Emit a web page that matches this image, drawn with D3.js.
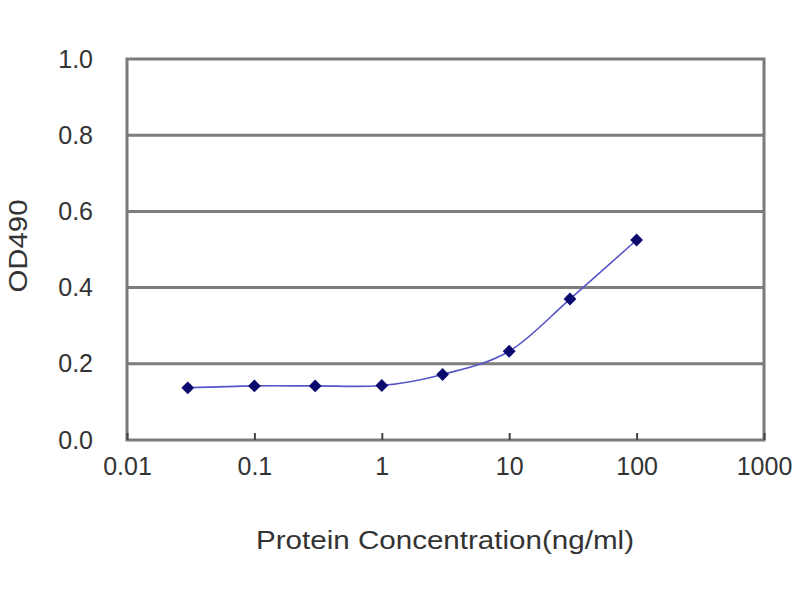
<!DOCTYPE html>
<html>
<head>
<meta charset="utf-8">
<script src="https://cdn.jsdelivr.net/npm/d3@7"></script>
<style>
  html, body { margin: 0; padding: 0; background: #fff; }
  svg { display: block; }
  text { font-family: "Liberation Sans", Arial, sans-serif; fill: #333; }
</style>
</head>
<body>
<script>
// Data
const concentrations = [0.03, 0.1, 0.3, 1, 3, 10, 30, 100];
const od490 = [0.137, 0.142, 0.142, 0.143, 0.172, 0.233, 0.370, 0.525];
const xTickValues = [0.01, 0.1, 1, 10, 100, 1000];
const xTickLabels = ["0.01", "0.1", "1", "10", "100", "1000"];
const yTickValues = [0.0, 0.2, 0.4, 0.6, 0.8, 1.0];
const yTickLabels = ["0.0", "0.2", "0.4", "0.6", "0.8", "1.0"];
const xTitle = "Protein Concentration(ng/ml)";
const yTitle = "OD490";

const W = 800, H = 600;
const plot = { left: 127, right: 764, top: 59, bottom: 440 };

const svg = d3.select("body").append("svg").attr("width", W).attr("height", H);

const x = d3.scaleLog().domain([0.01, 1000]).range([plot.left, plot.right]);
const y = d3.scaleLinear().domain([0, 1]).range([plot.bottom, plot.top]);

// gridlines
svg.append("g").selectAll("line").data(yTickValues.filter(v => v > 0 && v < 1)).join("line")
  .attr("x1", plot.left).attr("x2", plot.right)
  .attr("y1", d => y(d)).attr("y2", d => y(d))
  .attr("stroke", "#7d7d7d").attr("stroke-width", 3);

// plot border
svg.append("rect")
  .attr("x", plot.left).attr("y", plot.top)
  .attr("width", plot.right - plot.left).attr("height", plot.bottom - plot.top)
  .attr("fill", "none").attr("stroke", "#7a7a7a").attr("stroke-width", 3);

// x axis ticks (inside, upward)
const xAxis = d3.axisBottom(x).tickValues(xTickValues)
  .tickFormat((d, i) => xTickLabels[i]).tickSizeInner(-7).tickSizeOuter(0).tickPadding(20);
const gx = svg.append("g").attr("transform", `translate(0,${plot.bottom})`).call(xAxis);
gx.select(".domain").remove();
gx.selectAll(".tick line").attr("stroke", "#444").attr("stroke-width", 2);
gx.selectAll(".tick text").attr("font-size", 25).attr("fill", "#333")
  .attr("font-family", "Liberation Sans, Arial, sans-serif").attr("dy", "0.6em");

// y axis labels
const yAxis = d3.axisLeft(y).tickValues(yTickValues)
  .tickFormat((d, i) => yTickLabels[i]).tickSize(0).tickPadding(34);
const gy = svg.append("g").attr("transform", `translate(${plot.left},0)`).call(yAxis);
gy.select(".domain").remove();
gy.selectAll(".tick text").attr("font-size", 25).attr("fill", "#333")
  .attr("font-family", "Liberation Sans, Arial, sans-serif");

// line
const line = d3.line()
  .x((d, i) => x(concentrations[i]))
  .y(d => y(d))
  .curve(d3.curveCatmullRom.alpha(0));
svg.append("path").datum(od490)
  .attr("d", line).attr("fill", "none")
  .attr("stroke", "#5555c8").attr("stroke-width", 1.6);

// markers (diamonds)
const diamond = d3.symbol().type(d3.symbolDiamond2).size(105);
svg.append("g").selectAll("path").data(od490).join("path")
  .attr("transform", (d, i) => `translate(${x(concentrations[i])},${y(d)})`)
  .attr("d", diamond)
  .attr("fill", "#0a0a6e");

// titles
svg.append("text").attr("x", 445).attr("y", 549)
  .attr("text-anchor", "middle").attr("font-size", 26)
  .attr("textLength", 378).attr("lengthAdjust", "spacingAndGlyphs")
  .text(xTitle);
svg.append("text")
  .attr("transform", `translate(27,246) rotate(-90)`)
  .attr("text-anchor", "middle").attr("font-size", 26)
  .attr("textLength", 93).attr("lengthAdjust", "spacingAndGlyphs")
  .text(yTitle);
</script>
</body>
</html>
